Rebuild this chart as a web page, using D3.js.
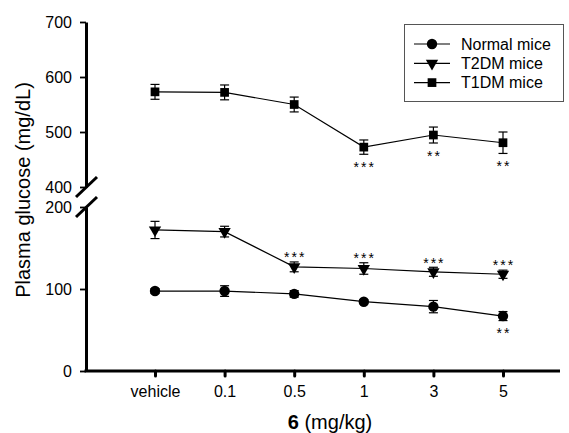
<!DOCTYPE html>
<html><head><meta charset="utf-8">
<script src="https://cdn.jsdelivr.net/npm/d3@7"></script>
<style>
html,body{margin:0;padding:0;background:#fff;}
text{font-family:"Liberation Sans",Arial,sans-serif;fill:#000;}
</style></head>
<body>
<svg id="chart" width="569" height="433"></svg>
<script>
const categories = ["vehicle","0.1","0.5","1","3","5"];
const normalMean = [97.5, 97.5, 94, 84.5, 78.5, 67];
const normalErr  = [3, 6.5, 4, 2.5, 7.5, 5.5];
const t2dmMean   = [172, 170, 127, 125, 121, 118];
const t2dmErr    = [10.5, 6.5, 6, 7, 5.5, 5];
const t1dmMean   = [573, 572, 550, 472.5, 494.5, 480.5];
const t1dmErr    = [13.5, 13.5, 13.5, 13, 14.5, 19.5];
const normalStars = ["","","","","","**"];
const t2dmStars   = ["","","***","***","***","***"];
const t1dmStars   = ["","","","***","**","**"];
const lowTicks  = [0, 100, 200];
const highTicks = [400, 500, 600, 700];
const legendLabels = ["Normal mice","T2DM mice","T1DM mice"];

const svg = d3.select("#chart");
const x = d3.scaleLinear().domain([0, 5]).range([155, 503]);
const yLo = d3.scaleLinear().domain([0, 200]).range([371, 207]);
const yHi = d3.scaleLinear().domain([400, 700]).range([187, 22]);
const axisX = 86, axisRight = 560;
const yOf = v => v >= 300 ? yHi(v) : yLo(v);

function styleAxis(g){
  g.select(".domain").attr("stroke","#000").attr("stroke-width",3);
  g.selectAll(".tick line").attr("stroke","#000").attr("stroke-width",1.8);
  g.selectAll(".tick text").attr("font-size","16px").attr("fill","#000")
    .attr("font-family","'Liberation Sans',Arial,sans-serif");
}
const gLo = svg.append("g").attr("transform",`translate(${axisX},0)`)
  .call(d3.axisLeft(yLo).tickValues(lowTicks).tickSize(6).tickSizeOuter(0).tickPadding(8));
styleAxis(gLo);
const gHi = svg.append("g").attr("transform",`translate(${axisX},0)`)
  .call(d3.axisLeft(yHi).tickValues(highTicks).tickSize(6).tickSizeOuter(0).tickPadding(8));
styleAxis(gHi);

[yHi(400), yLo(200)].forEach(yy=>{
  svg.append("line").attr("x1",axisX-10).attr("y1",yy+10).attr("x2",axisX+11).attr("y2",yy-10)
    .attr("stroke","#000").attr("stroke-width",3);
});

const gx = svg.append("g").attr("transform",`translate(0,${yLo(0)})`)
  .call(d3.axisBottom(x).tickValues(d3.range(categories.length)).tickFormat(i=>categories[i])
    .tickSize(5).tickSizeOuter(0).tickPadding(10));
gx.select(".domain").remove();
gx.selectAll(".tick line").attr("stroke","#000").attr("stroke-width",3).attr("stroke-linecap","round");
gx.selectAll(".tick text").attr("font-size","16px").attr("fill","#000")
  .attr("font-family","'Liberation Sans',Arial,sans-serif");
svg.append("line").attr("x1",axisX-1.5).attr("x2",axisRight).attr("y1",yLo(0)).attr("y2",yLo(0))
  .attr("stroke","#000").attr("stroke-width",3);

const xt = svg.append("text").attr("x",330).attr("y",429).attr("text-anchor","middle").attr("font-size","20px");
xt.append("tspan").attr("font-weight","bold").text("6");
xt.append("tspan").text(" (mg/kg)");
svg.append("text").attr("transform","translate(30,190) rotate(-90)").attr("text-anchor","middle")
  .attr("font-size","20px").text("Plasma glucose (mg/dL)");

const series = [
  {mean: normalMean, err: normalErr, stars: normalStars, starPos:"below", sym: d3.symbolCircle, size: 85, rot: 0},
  {mean: t2dmMean, err: t2dmErr, stars: t2dmStars, starPos:"above", sym: d3.symbolTriangle, size: 66, rot: 180},
  {mean: t1dmMean, err: t1dmErr, stars: t1dmStars, starPos:"below", sym: d3.symbolSquare, size: 76, rot: 0}
];
const line = d3.line().x((d,i)=>x(i)).y(d=>yOf(d));
series.forEach(s=>{
  const g = svg.append("g");
  g.append("path").datum(s.mean).attr("d",line).attr("fill","none").attr("stroke","#000").attr("stroke-width",1.2);
  s.mean.forEach((m,i)=>{
    const e = s.err[i];
    const y1 = yOf(m+e), y2 = yOf(m-e), cx = x(i);
    g.append("line").attr("x1",cx).attr("x2",cx).attr("y1",y1).attr("y2",y2).attr("stroke","#000").attr("stroke-width",1.2);
    [y1,y2].forEach(yy=>g.append("line").attr("x1",cx-4.5).attr("x2",cx+4.5).attr("y1",yy).attr("y2",yy)
      .attr("stroke","#000").attr("stroke-width",1.2));
    g.append("path").attr("d",d3.symbol().type(s.sym).size(s.size)())
      .attr("transform",`translate(${cx},${yOf(m)}) rotate(${s.rot})`).attr("fill","#000");
    if (s.stars[i]) {
      const cy = s.starPos==="below" ? y2 + 10 : y1 - 7.5;
      g.append("text").attr("x",cx+1).attr("y",cy+7.8).attr("text-anchor","middle")
        .attr("font-size","14px").attr("letter-spacing","2px").text(s.stars[i]);
    }
  });
});

const lg = svg.append("g");
lg.append("rect").attr("x",404.5).attr("y",24.5).attr("width",159).attr("height",77)
  .attr("fill","#fff").attr("stroke","#555").attr("stroke-width",1);
series.forEach((s,i)=>{
  const ly = 44 + i*19.3;
  lg.append("line").attr("x1",414).attr("x2",450).attr("y1",ly).attr("y2",ly).attr("stroke","#000").attr("stroke-width",1.2);
  lg.append("path").attr("d",d3.symbol().type(s.sym).size(s.size)())
    .attr("transform",`translate(432,${ly}) rotate(${s.rot})`).attr("fill","#000");
  lg.append("text").attr("x",461).attr("y",ly+5.8).attr("font-size","16px").text(legendLabels[i]);
});
</script>
</body></html>
